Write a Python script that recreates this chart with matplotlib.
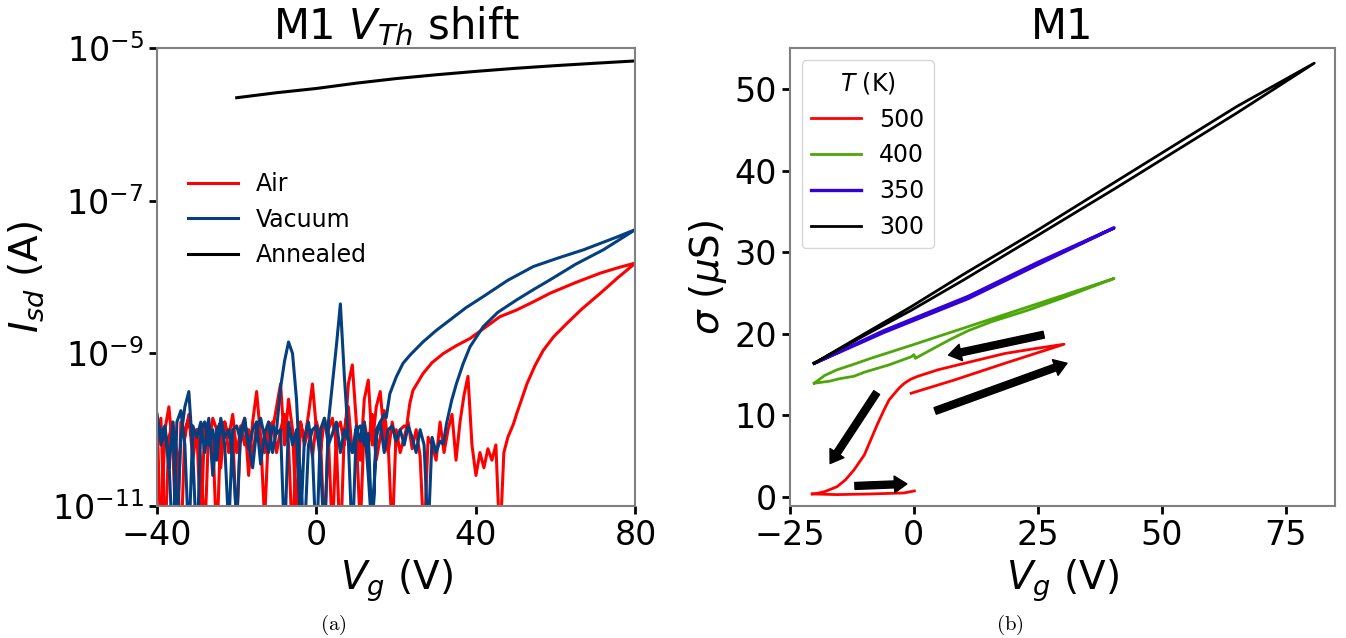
import numpy as np
import matplotlib
matplotlib.use("Agg")
import matplotlib.pyplot as plt
from matplotlib.ticker import NullLocator, FixedLocator

# ---------------- Panel (a): I_sd vs V_g (log10 of current in A) ----------------
annealed_vg = [-20, -10, 0, 10, 20, 30, 40, 50, 60, 70, 80]
annealed_isd = [2.26e-6, 2.63e-6, 2.99e-6, 3.51e-6, 4.03e-6, 4.52e-6,
                5.01e-6, 5.50e-6, 5.96e-6, 6.41e-6, 6.87e-6]

# Vacuum, backward branch (turns on near 18 V): noise floor -40..17 V (1 V steps)
vac_back_noise_log = [-9.85, -10.05, -9.95, -10.4, -11.6, -9.9, -9.75, -10.2, -11.5, -9.95,
                      -10.1, -9.9, -10.3, -9.85, -10.6, -10.0, -9.9, -10.2, -11.3, -10.0,
                      -9.95, -10.15, -9.85, -10.25, -10.0, -9.9, -10.45, -10.05, -9.9, -10.3,
                      -10.0, -9.45, -9.1, -8.85, -9.0, -9.6, -10.7, -11.4, -10.2, -10.0,
                      -9.95, -10.4, -11.5, -9.9, -9.4, -8.9, -8.35, -9.3, -10.1, -10.3,
                      -9.95, -10.15, -9.9, -10.6, -11.4, -10.0, -9.9, -9.8]
vac_back_on_vg = [17.5, 18.4, 20.0, 21.7, 23.5, 25.0, 26.7, 30.0, 33.5, 37.5, 41.8,
                  48.0, 54.4, 60.5, 67.0, 75.0, 80.0]
vac_back_on_log = [-9.84, -9.53, -9.31, -9.13, -9.02, -8.94, -8.85, -8.70, -8.56, -8.40, -8.255,
                   -8.04, -7.86, -7.75, -7.64, -7.48, -7.375]

# Vacuum, forward branch (turns on near 32 V): noise floor -40..31 V
vac_fwd_noise_log = [-9.8, -10.2, -10.0, -10.5, -9.9, -11.4, -10.1, -9.7, -9.5, -10.3,
                     -11.6, -10.0, -9.9, -10.2, -10.0, -10.4, -9.85, -10.1, -10.0, -10.35,
                     -11.2, -10.0, -9.9, -10.2, -10.5, -10.0, -9.85, -10.1, -10.3, -9.95,
                     -10.05, -10.0, -11.5, -9.9, -10.2, -10.0, -11.3, -10.1, -9.9, -10.3,
                     -11.6, -10.0, -9.85, -10.2, -10.05, -9.9, -10.3, -10.0, -10.15, -11.5,
                     -10.0, -9.95, -10.2, -10.05, -11.4, -10.1, -9.9, -10.3, -10.0, -9.95,
                     -10.15, -10.0, -10.2, -9.95, -10.1, -10.3, -10.0, -10.2, -11.4, -10.1,
                     -10.3, -10.15]
vac_fwd_on_vg = [31.8, 32.6, 33.9, 35.1, 36.8, 38.5, 41.8, 45.5, 50.2, 54.5, 58.6, 65.0, 72.0, 80.0]
vac_fwd_on_log = [-10.19, -9.925, -9.617, -9.397, -9.133, -8.914, -8.65, -8.46, -8.298, -8.16,
                  -8.034, -7.83, -7.639, -7.375]

# Air, backward branch (turns on near 23 V): noise floor -40..22 V
air_back_noise_log = [-9.8, -11.5, -10.0, -9.7, -10.3, -11.6, -9.9, -10.1, -9.8, -10.4,
                      -10.0, -11.3, -9.9, -10.2, -9.85, -10.0, -10.5, -9.9, -10.1, -9.8,
                      -10.3, -10.0, -9.85, -10.6, -9.9, -9.5, -10.1, -10.3, -9.9, -10.0,
                      -9.7, -9.4, -10.2, -9.6, -10.0, -11.2, -9.9, -10.15, -9.8, -9.4,
                      -10.0, -10.3, -9.85, -10.1, -11.4, -10.0, -9.9, -10.2, -9.4, -9.15,
                      -9.9, -10.4, -9.6, -9.35, -10.2, -9.7, -9.5, -10.1, -10.3, -9.9,
                      -10.2, -10.0, -9.95]
air_back_on_vg = [22.6, 23.4, 24.2, 26.7, 29.0, 31.8, 35.0, 38.5, 42.0, 46.0, 50.2,
                  54.5, 58.6, 65.0, 71.2, 76.0, 80.0]
air_back_on_log = [-9.97, -9.66, -9.485, -9.266, -9.12, -9.002, -8.90, -8.804, -8.67, -8.518,
                   -8.43, -8.32, -8.21, -8.07, -7.946, -7.87, -7.814]

# Air, forward branch (turns on near 49 V): noise floor -40..48 V
air_fwd_noise_log = [-10.0, -9.85, -11.5, -10.1, -9.9, -10.3, -11.6, -10.0, -9.85, -10.2,
                     -10.0, -10.4, -11.4, -9.95, -10.1, -11.5, -10.0, -9.9, -10.3, -10.05,
                     -11.3, -9.95, -10.2, -10.0, -10.4, -9.9, -10.1, -11.2, -10.0, -9.9,
                     -10.3, -10.0, -9.8, -10.2, -11.5, -10.05, -9.9, -10.2, -10.0, -10.35,
                     -9.9, -10.1, -11.4, -10.0, -9.85, -10.2, -11.6, -10.0, -9.7, -10.3,
                     -10.1, -11.3, -9.9, -10.2, -9.8, -10.4, -10.1, -9.75, -10.2, -11.4,
                     -10.0, -10.3, -10.1, -9.9, -10.25, -10.0, -10.35, -11.5, -10.1, -10.2,
                     -10.4, -9.9, -10.3, -10.0, -9.8, -10.4, -9.9, -9.55, -9.3, -10.2,
                     -10.6, -10.3, -10.5, -10.25, -10.4, -10.2, -11.5, -10.3, -10.1]
air_fwd_on_vg = [49.4, 50.2, 52.8, 54.8, 56.9, 59.5, 62.8, 66.5, 71.2, 75.5, 80.0]
air_fwd_on_log = [-9.925, -9.793, -9.397, -9.16, -8.958, -8.78, -8.606, -8.42, -8.21, -8.01, -7.814]

# ---------------- Panel (b): sigma (uS) vs V_g ----------------
t500_loop_vg = [-0.55, 8.25, 18.4, 30.3, 24.5, 18.4, 11.6, 4.9, 0.8, -0.6, -1.9, -2.9, -3.9,
                -5.0, -6.0, -7.3, -8.7, -10.0, -12.1, -13.8, -15.5, -18.0, -19.5, -20.5]
t500_loop_sigma = [12.72, 14.36, 16.4, 18.73, 18.2, 17.6, 16.6, 15.6, 14.8, 14.45, 13.95, 13.4,
                   12.7, 11.9, 10.7, 9.0, 7.0, 5.15, 3.3, 2.1, 1.26, 0.65, 0.45, 0.37]
t500_base_vg = [-20.5, -15.5, -8.7, -2.0, 0.1]
t500_base_sigma = [0.37, 0.29, 0.37, 0.49, 0.74]

t400_vg = [-20.1, -18.0, -15.5, -12.0, -8.7, 0.0, 5.0, 10.0, 20.0, 30.0, 40.4,
           30.0, 23.0, 15.7, 11.0, 7.6, 3.0, 0.3, 0.0, -0.5, -5.0, -10.0, -12.1, -15.0, -17.0, -20.1]
t400_sigma = [13.95, 14.9, 15.6, 16.3, 17.0, 18.7, 19.7, 20.7, 22.7, 24.7, 26.8,
              24.4, 22.9, 21.5, 20.4, 19.4, 17.9, 17.0, 17.45, 17.2, 16.2, 15.3, 14.8, 14.5, 14.2, 13.95]

t350_vg = [-20.1, -6.0, 11.0, 25.0, 40.4, 25.0, 11.0, -6.0, -20.1]
t350_sigma = [16.4, 20.2, 24.35, 28.5, 33.0, 28.75, 24.6, 20.4, 16.4]

t300_vg = [-20.1, -10.0, -0.5, 10.0, 24.5, 40.8, 65.2, 80.8, 65.2, 40.8, 24.5, 10.0, -0.5, -10.0, -20.1]
t300_sigma = [16.4, 19.8, 22.9, 26.6, 31.9, 37.9, 47.1, 53.2, 47.9, 38.7, 32.55, 27.3, 23.35, 20.0, 16.4]

arrow_tails = [(4.3, 10.55), (26.2, 19.9), (-7.5, 12.8), (-11.9, 1.35)]
arrow_heads = [(30.9, 16.4), (7.0, 17.4), (-16.9, 4.1), (-1.4, 1.6)]

# ---------------- Figure ----------------
fig = plt.figure(figsize=(13.46, 6.38), dpi=100)
ax1 = fig.add_axes([0.1166, 0.207, 0.3555, 0.717])
ax2 = fig.add_axes([0.5869, 0.207, 0.405, 0.717])

TICK_FS = 24
LABEL_FS = 28
TITLE_FS = 30
LEG_FS = 17
SPINE_C = "#808080"


def branch(noise_log, on_vg, on_log):
    vg = list(np.arange(-40, -40 + len(noise_log), 1.0)) + list(on_vg)
    lg = list(noise_log) + list(on_log)
    return np.array(vg), 10.0 ** np.array(lg)


air_f_x, air_f_y = branch(air_fwd_noise_log, air_fwd_on_vg, air_fwd_on_log)
air_b_x, air_b_y = branch(air_back_noise_log, air_back_on_vg, air_back_on_log)
vac_f_x, vac_f_y = branch(vac_fwd_noise_log, vac_fwd_on_vg, vac_fwd_on_log)
vac_b_x, vac_b_y = branch(vac_back_noise_log, vac_back_on_vg, vac_back_on_log)

air_x = np.concatenate([air_f_x, air_b_x[::-1]])
air_y = np.concatenate([air_f_y, air_b_y[::-1]])
vac_x = np.concatenate([vac_f_x, vac_b_x[::-1]])
vac_y = np.concatenate([vac_f_y, vac_b_y[::-1]])

ax1.plot(air_x, air_y, color="#ff0000", lw=2.2, label="Air")
ax1.plot(vac_x, vac_y, color="#053f7f", lw=2.2, label="Vacuum")
ax1.plot(annealed_vg, annealed_isd, color="black", lw=2.2, label="Annealed")
ax1.set_yscale("log")
ax1.set_xlim(-40, 80)
ax1.set_ylim(1e-11, 1e-5)
ax1.xaxis.set_major_locator(FixedLocator([-40, 0, 40, 80]))
ax1.yaxis.set_major_locator(FixedLocator([1e-11, 1e-9, 1e-7, 1e-5]))
ax1.yaxis.set_minor_locator(NullLocator())
ax1.set_xlabel(r"$V_g$ (V)", fontsize=LABEL_FS)
ax1.set_ylabel(r"$I_{sd}$ (A)", fontsize=LABEL_FS)
ax1.set_title(r"M1 $V_{Th}$ shift", fontsize=TITLE_FS)
ax1.legend(loc="center left", bbox_to_anchor=(0.046, 0.626), borderaxespad=0,
           frameon=False, fontsize=LEG_FS, handlelength=2.12, handletextpad=0.72)

ax2.plot(t500_loop_vg, t500_loop_sigma, color="#ff0000", lw=2.0, label="500")
ax2.plot(t500_base_vg, t500_base_sigma, color="#ff0000", lw=2.0)
ax2.plot(t400_vg, t400_sigma, color="#4ea70a", lw=2.0, label="400")
ax2.plot(t350_vg, t350_sigma, color="#3300d6", lw=2.4, label="350")
ax2.plot(t300_vg, t300_sigma, color="black", lw=2.0, label="300")
for tail, head in zip(arrow_tails, arrow_heads):
    ax2.annotate("", xy=head, xytext=tail,
                 arrowprops=dict(facecolor="black", edgecolor="black", width=5,
                                 headwidth=12, headlength=9, shrink=0))
ax2.set_xlim(-25, 85)
ax2.set_ylim(-1.1, 55.0)
ax2.xaxis.set_major_locator(FixedLocator([-25, 0, 25, 50, 75]))
ax2.yaxis.set_major_locator(FixedLocator([0, 10, 20, 30, 40, 50]))
ax2.set_xlabel(r"$V_g$ (V)", fontsize=LABEL_FS)
ax2.set_ylabel(r"$\sigma$ ($\mu$S)", fontsize=LABEL_FS)
ax2.set_title("M1", fontsize=TITLE_FS)
ax2.legend(loc="upper left", title=r"$T$ (K)", fontsize=LEG_FS, title_fontsize=LEG_FS,
           handlelength=2.12, handletextpad=0.76)

for ax in (ax1, ax2):
    for sp in ax.spines.values():
        sp.set_color(SPINE_C)
        sp.set_linewidth(1.5)
    ax.tick_params(axis="both", which="major", labelsize=TICK_FS, length=6,
                   width=2, color="black")

fig.text(0.2474, 0.02, r"$\mathrm{(a)}$", ha="center", va="center", fontsize=15,
         math_fontfamily="cm")
fig.text(0.7504, 0.02, r"$\mathrm{(b)}$", ha="center", va="center", fontsize=15,
         math_fontfamily="cm")

fig.savefig("out.png", dpi=100)
